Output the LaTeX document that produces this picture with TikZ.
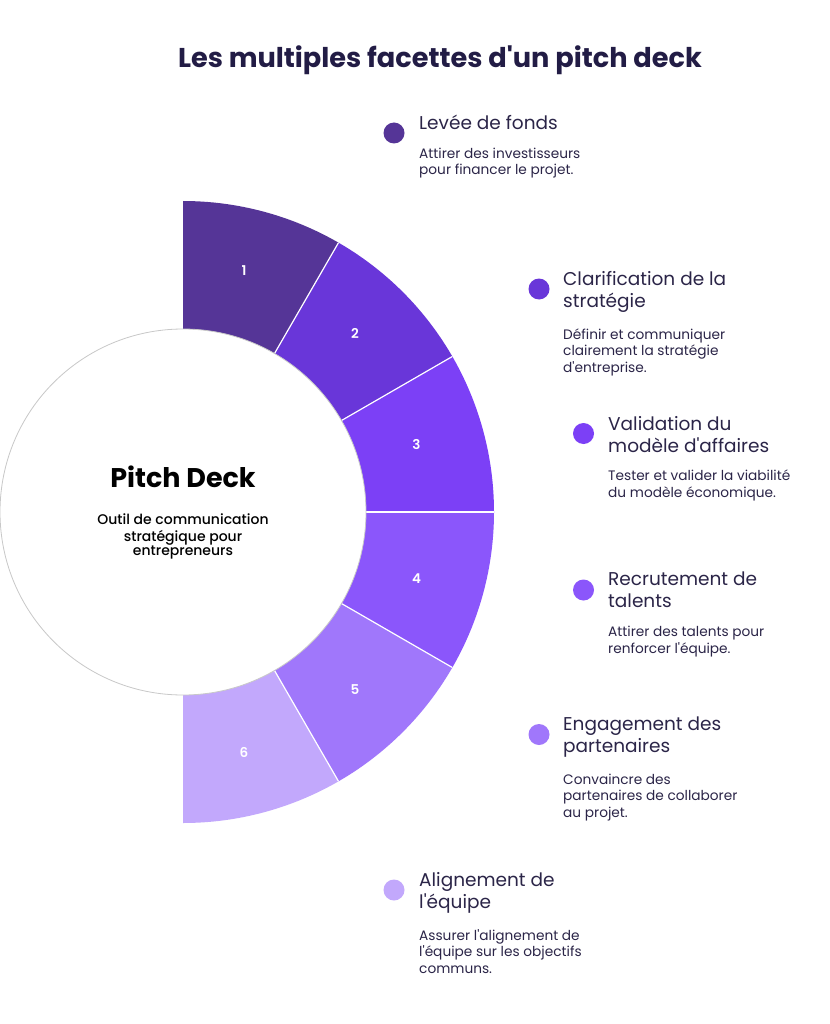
\documentclass[tikz,border=0pt]{standalone}
\usepackage{fontspec}
\setmainfont{Poppins}[Ligatures=TeXOff]
\newfontfamily\popmed{Poppins Medium}[Ligatures=TeXOff]
\newfontfamily\popsemi{Poppins SemiBold}[Ligatures=TeXOff]
\usetikzlibrary{calc}
\definecolor{segA}{HTML}{553597}
\definecolor{segB}{HTML}{6936D9}
\definecolor{segC}{HTML}{7C40F6}
\definecolor{segD}{HTML}{8B56FB}
\definecolor{segE}{HTML}{A077FB}
\definecolor{segF}{HTML}{C2A8FC}
\definecolor{inkdark}{HTML}{221C45}
\definecolor{inktext}{HTML}{2B2548}
\definecolor{ringgray}{HTML}{C8C8C8}
\tikzset{
  maintitle/.style={font=\bfseries\fontsize{27.2}{31}\selectfont, text=inkdark, inner sep=0pt},
  itemtitle/.style={font=\fontsize{18.5}{22}\selectfont, text=inktext, align=left, anchor=north west, inner sep=0pt},
  itemdesc/.style={font=\fontsize{13.7}{16.5}\selectfont, text=inktext, align=left, anchor=north west, inner sep=0pt},
  itemdot/.style={circle, inner sep=0pt, minimum size=21pt},
  numlabel/.style={font=\popsemi\fontsize{13.5}{15}\selectfont, text=white, inner sep=0pt},
  sepline/.style={white, line width=1.2pt},
}
\begin{document}
\begin{tikzpicture}[x=1pt,y=1pt]
\useasboundingbox (0,0) rectangle (829,-1024);
\fill[white] (0,0) rectangle (829,-1024);
\coordinate (C) at (183,-512);
% segments
\foreach \i/\c in {1/segA,2/segB,3/segC,4/segD,5/segE,6/segF}{
  \pgfmathsetmacro\sa{90-30*(\i-1)}
  \pgfmathsetmacro\sb{90-30*\i}
  \fill[\c] (C) -- ($(C)+(\sa:311)$) arc[start angle=\sa, end angle=\sb, radius=311] -- cycle;
}
\foreach \a in {60,30,0,-30,-60}{
  \draw[sepline] (C) -- ($(C)+(\a:311)$);
}
% core circle
\node[circle, draw=ringgray, fill=white, line width=0.8pt, minimum size=366pt, inner sep=0pt] (core) at (C) {};
% numbers
\node[numlabel] (n1) at (244,-271) {1};
\node[numlabel] (n2) at (355,-333.5) {2};
\node[numlabel] (n3) at (416.5,-444) {3};
\node[numlabel] (n4) at (416.5,-579) {4};
\node[numlabel] (n5) at (355,-689.5) {5};
\node[numlabel] (n6) at (244,-752) {6};
% centre text
\node[font=\bfseries\fontsize{27}{31}\selectfont, text=black, anchor=base, inner sep=0pt] (pd) at (183,-487.5) {Pitch Deck};
\node[font=\popmed\fontsize{14}{13.8}\selectfont, text=black, align=center, anchor=north, inner sep=0pt] (pdsub) at (183,-514) {\strut Outil de communication\\stratégique pour\\entrepreneurs};
% title
\node[maintitle, anchor=base] (title) at (440,-67.5) {Les multiples facettes d'un pitch deck};
% items
\node[itemdot, fill=segA] (d1) at (394,-133) {};
\node[itemtitle] (t1) at (419,-113.6) {\strut Levée de fonds};
\node[itemdesc] (e1) at (419,-146.5) {\strut Attirer des investisseurs\\pour financer le projet.};

\node[itemdot, fill=segB] (d2) at (539,-289) {};
\node[itemtitle] (t2) at (563,-269.6) {\strut Clarification de la\\stratégie};
\node[itemdesc] (e2) at (563,-327.5) {\strut Définir et communiquer\\clairement la stratégie\\d'entreprise.};

\node[itemdot, fill=segC] (d3) at (583.5,-433.5) {};
\node[itemtitle] (t3) at (608,-414.6) {\strut Validation du\\modèle d'affaires};
\node[itemdesc] (e3) at (608,-469.2) {\strut Tester et valider la viabilité\\du modèle économique.};

\node[itemdot, fill=segD] (d4) at (583.5,-590) {};
\node[itemtitle] (t4) at (608,-570.3) {\strut Recrutement de\\talents};
\node[itemdesc] (e4) at (608,-625.2) {\strut Attirer des talents pour\\renforcer l'équipe.};

\node[itemdot, fill=segE] (d5) at (539,-734.5) {};
\node[itemtitle] (t5) at (563,-715.3) {\strut Engagement des\\partenaires};
\node[itemdesc] (e5) at (563,-772.5) {\strut Convaincre des\\partenaires de collaborer\\au projet.};

\node[itemdot, fill=segF] (d6) at (394,-890) {};
\node[itemtitle] (t6) at (419,-870.6) {\strut Alignement de\\l'équipe};
\node[itemdesc] (e6) at (419,-928.5) {\strut Assurer l'alignement de\\l'équipe sur les objectifs\\communs.};
\end{tikzpicture}
\end{document}
